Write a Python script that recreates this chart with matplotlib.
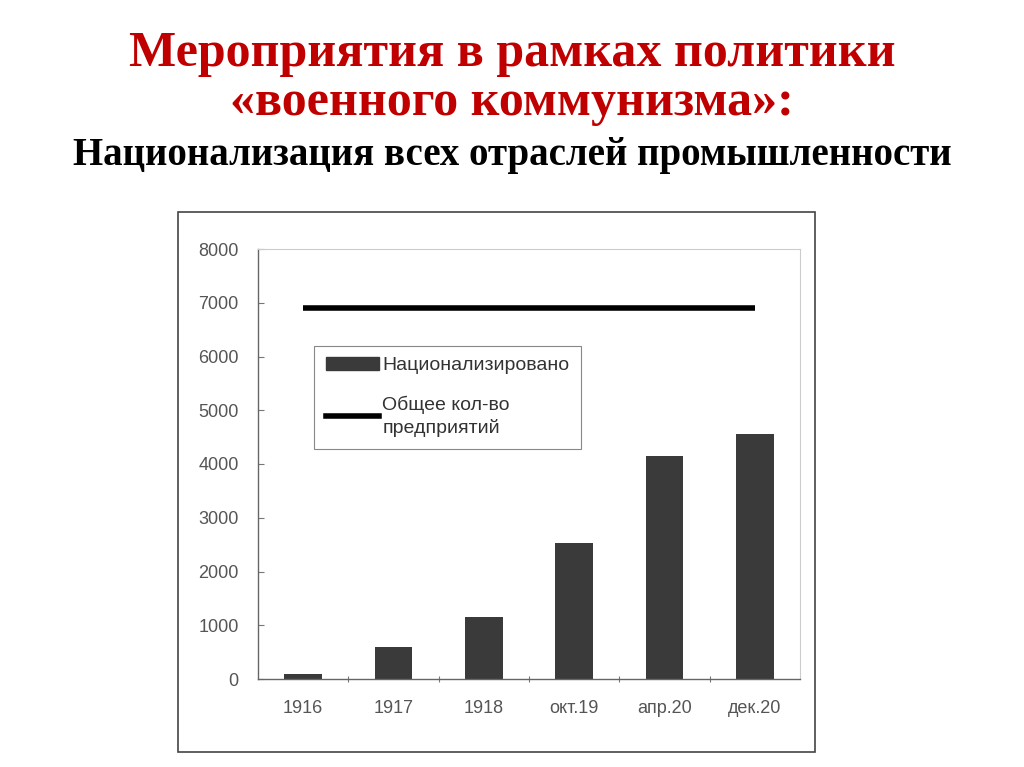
import matplotlib.pyplot as plt
from matplotlib.patches import Rectangle
from matplotlib.lines import Line2D

# Chart data
periods = ['1916', '1917', '1918', 'окт.19', 'апр.20', 'дек.20']
nationalized = [100, 600, 1150, 2530, 4150, 4550]
total_enterprises = [6900, 6900, 6900, 6900, 6900, 6900]
y_ticks = [0, 1000, 2000, 3000, 4000, 5000, 6000, 7000, 8000]

TITLE_RED = '#c00000'
BAR_COLOR = '#3a3a3a'
TICK_COLOR = '#555555'

fig = plt.figure(figsize=(10.24, 7.67), dpi=100)

# titles
fig.text(0.5, 0.930, 'Мероприятия в рамках политики', ha='center', va='center',
         family='Liberation Serif', fontweight='bold', fontsize=36, color=TITLE_RED)
fig.text(0.5, 0.866, '«военного коммунизма»:', ha='center', va='center',
         family='Liberation Serif', fontweight='bold', fontsize=36, color=TITLE_RED)
fig.text(0.5, 0.797, 'Национализация всех отраслей промышленности', ha='center', va='center',
         family='Liberation Serif', fontweight='bold', fontsize=28, color='black')

# outer frame of the scanned chart
fig.patches.append(Rectangle((178 / 1024, 1 - 752 / 767), (815 - 178) / 1024, (752 - 212) / 767,
                             transform=fig.transFigure, fill=False, edgecolor='#444444',
                             linewidth=1.2))

ax = fig.add_axes([258 / 1024, 1 - 679 / 767, (800 - 258) / 1024, (679 - 249) / 767])
x = range(len(periods))
ax.bar(x, nationalized, width=0.42, color=BAR_COLOR, label='Национализировано', zorder=2)
ax.plot(x, total_enterprises, color='black', linewidth=4, solid_capstyle='butt',
        label='Общее кол-во\nпредприятий', zorder=3)

ax.set_xlim(-0.5, len(periods) - 0.5)
ax.set_ylim(0, 8000)
ax.set_yticks(y_ticks)
ax.set_xticks([i + 0.5 for i in range(len(periods) - 1)], minor=False)
ax.set_xticklabels([])
ax.set_xticks(list(x), minor=True)
ax.set_xticklabels(periods, minor=True)
ax.tick_params(axis='x', which='minor', length=0, pad=15, labelsize=13, labelcolor=TICK_COLOR)
ax.tick_params(axis='x', which='major', length=4, direction='inout', color='#777777')
ax.tick_params(axis='y', length=4, direction='in', color='#777777', labelsize=13,
               labelcolor=TICK_COLOR, pad=14)
for lbl in ax.get_xticklabels(minor=True) + ax.get_yticklabels():
    lbl.set_family('Liberation Sans')

for side in ['top', 'right']:
    ax.spines[side].set_color('#cccccc')
    ax.spines[side].set_linewidth(0.8)
for side in ['left', 'bottom']:
    ax.spines[side].set_color('#666666')
    ax.spines[side].set_linewidth(1.0)

handles = [Rectangle((0, 0), 1, 1, color=BAR_COLOR),
           Line2D([0], [0], color='black', linewidth=4)]
leg = ax.legend(handles, ['Национализировано', 'Общее кол-во\nпредприятий'],
                loc='upper left', bbox_to_anchor=(0.086, 0.798), frameon=True, fancybox=False,
                edgecolor='#888888', framealpha=1, borderpad=0.6, labelspacing=1.1,
                handlelength=2.7, handleheight=0.6, handletextpad=0.2,
                prop={'family': 'Liberation Sans', 'size': 14})
leg.get_frame().set_linewidth(0.8)
for t in leg.get_texts():
    t.set_color('#333333')
    t.set_linespacing(1.35)

fig.savefig('out.png', dpi=100)
